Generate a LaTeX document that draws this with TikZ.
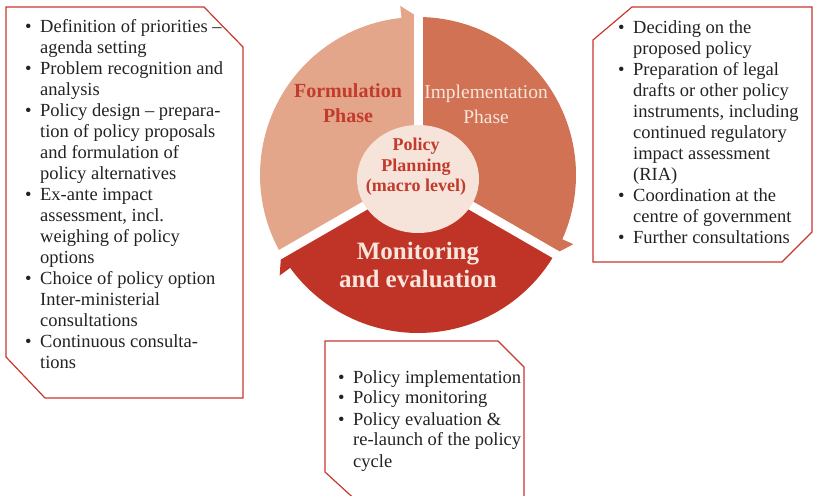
\documentclass[tikz,border=0pt]{standalone}
\usepackage{fontspec}
\setmainfont{Liberation Serif}
\usetikzlibrary{shapes.geometric}

\definecolor{formfill}{HTML}{E3A68B}
\definecolor{implfill}{HTML}{D07253}
\definecolor{monfill}{HTML}{C03327}
\definecolor{corefill}{HTML}{F6E3DA}
\definecolor{darkred}{HTML}{C23B2B}
\definecolor{palerose}{HTML}{F8E6DC}
\definecolor{framered}{HTML}{C8372D}
\definecolor{bodytext}{HTML}{222222}

\newcommand{\bitem}{\makebox[15pt][l]{\textbullet}}
\newcommand{\bcont}{\hspace*{15pt}}

\begin{document}
\begin{tikzpicture}
 [x=1pt,y=1pt,
   frame/.style={draw=framered,line width=1.2pt,line join=miter},
   gapline/.style={draw=white,line width=9pt},
   listtext/.style={anchor=base west,align=left,inner sep=0pt,text=bodytext,
     font=\fontsize{18.5}{21}\selectfont},
   phase/.style={anchor=base,align=center,inner sep=0pt}]
  \useasboundingbox (0,0) rectangle (813,495);
  \clip (0,0) rectangle (813,495);

  % the three arrow segments of the cycle
  \begin{scope}[shift={(418,320)}]
    \fill[formfill] (0,0) -- (210:158pt) arc[start angle=210, end angle=96, radius=158pt]
      -- (96:170pt) -- (90:158pt) -- cycle;
    \fill[implfill] (0,0) -- (90:158pt) arc[start angle=90, end angle=-24, radius=158pt]
      -- (-24:170pt) -- (-30:158pt) -- cycle;
    \fill[monfill] (0,0) -- (-30:158pt) arc[start angle=-30, end angle=-144, radius=158pt]
      -- (-144:171pt) -- (-150:158pt) -- cycle;
    \foreach \a in {90,-30,210}
      \draw[gapline] (0,0) -- (\a:185pt);
  \end{scope}
  \node[ellipse,fill=corefill,minimum width=122pt,minimum height=108pt,inner sep=0pt]
    (core) at (418,316) {};

  % base anchors sit on the last line of each label
  \node[phase,text=darkred,font=\fontsize{20}{24.5}\selectfont\bfseries] (formlbl) at (348,372.5)
    {Formulation\\Phase};
  \node[phase,text=palerose,font=\fontsize{19.5}{24.5}\selectfont] (impllbl) at (486,371.5)
    {Implementation\\Phase};
  \node[phase,text=darkred,font=\fontsize{18}{20.5}\selectfont\bfseries] (corelbl) at (416,303)
    {Policy\\Planning\\(macro level)};
  \node[phase,text=palerose,font=\fontsize{25}{27.5}\selectfont\bfseries] (monlbl) at (418,207.5)
    {Monitoring\\and evaluation};

  % framed lists of activities
  \draw[frame] (6,488) -- (204,488) -- (243,448) -- (243,97) -- (45,97) -- (6,138) -- cycle;
  \draw[frame] (632,488) -- (812,488) -- (812,263) -- (782,233) -- (593,233) -- (593,455) -- cycle;
  \draw[frame] (325,154) -- (498,154) -- (524,128) -- (524,-20) -- (372,-20) -- (325,23) -- cycle;

  \node[listtext] (formlist) at (25,126)
    {\bitem Definition of priorities --\\
     \bcont agenda setting\\
     \bitem Problem recognition and\\
     \bcont analysis\\
     \bitem Policy design -- prepara-\\
     \bcont tion of policy proposals\\
     \bcont and formulation of\\
     \bcont policy alternatives\\
     \bitem Ex-ante impact\\
     \bcont assessment, incl.\\
     \bcont weighing of policy\\
     \bcont options\\
     \bitem Choice of policy option\\
     \bcont Inter-ministerial\\
     \bcont consultations\\
     \bitem Continuous consulta-\\
     \bcont tions};
  \node[listtext] (impllist) at (618,251)
    {\bitem Deciding on the\\
     \bcont proposed policy\\
     \bitem Preparation of legal\\
     \bcont drafts or other policy\\
     \bcont instruments, including\\
     \bcont continued regulatory\\
     \bcont impact assessment\\
     \bcont (RIA)\\
     \bitem Coordination at the\\
     \bcont centre of government\\
     \bitem Further consultations};
  \node[listtext] (monlist) at (338,28)
    {\bitem Policy implementation\\
     \bitem Policy monitoring\\
     \bitem Policy evaluation \&\\
     \bcont re-launch of the policy\\
     \bcont cycle};
\end{tikzpicture}
\end{document}
